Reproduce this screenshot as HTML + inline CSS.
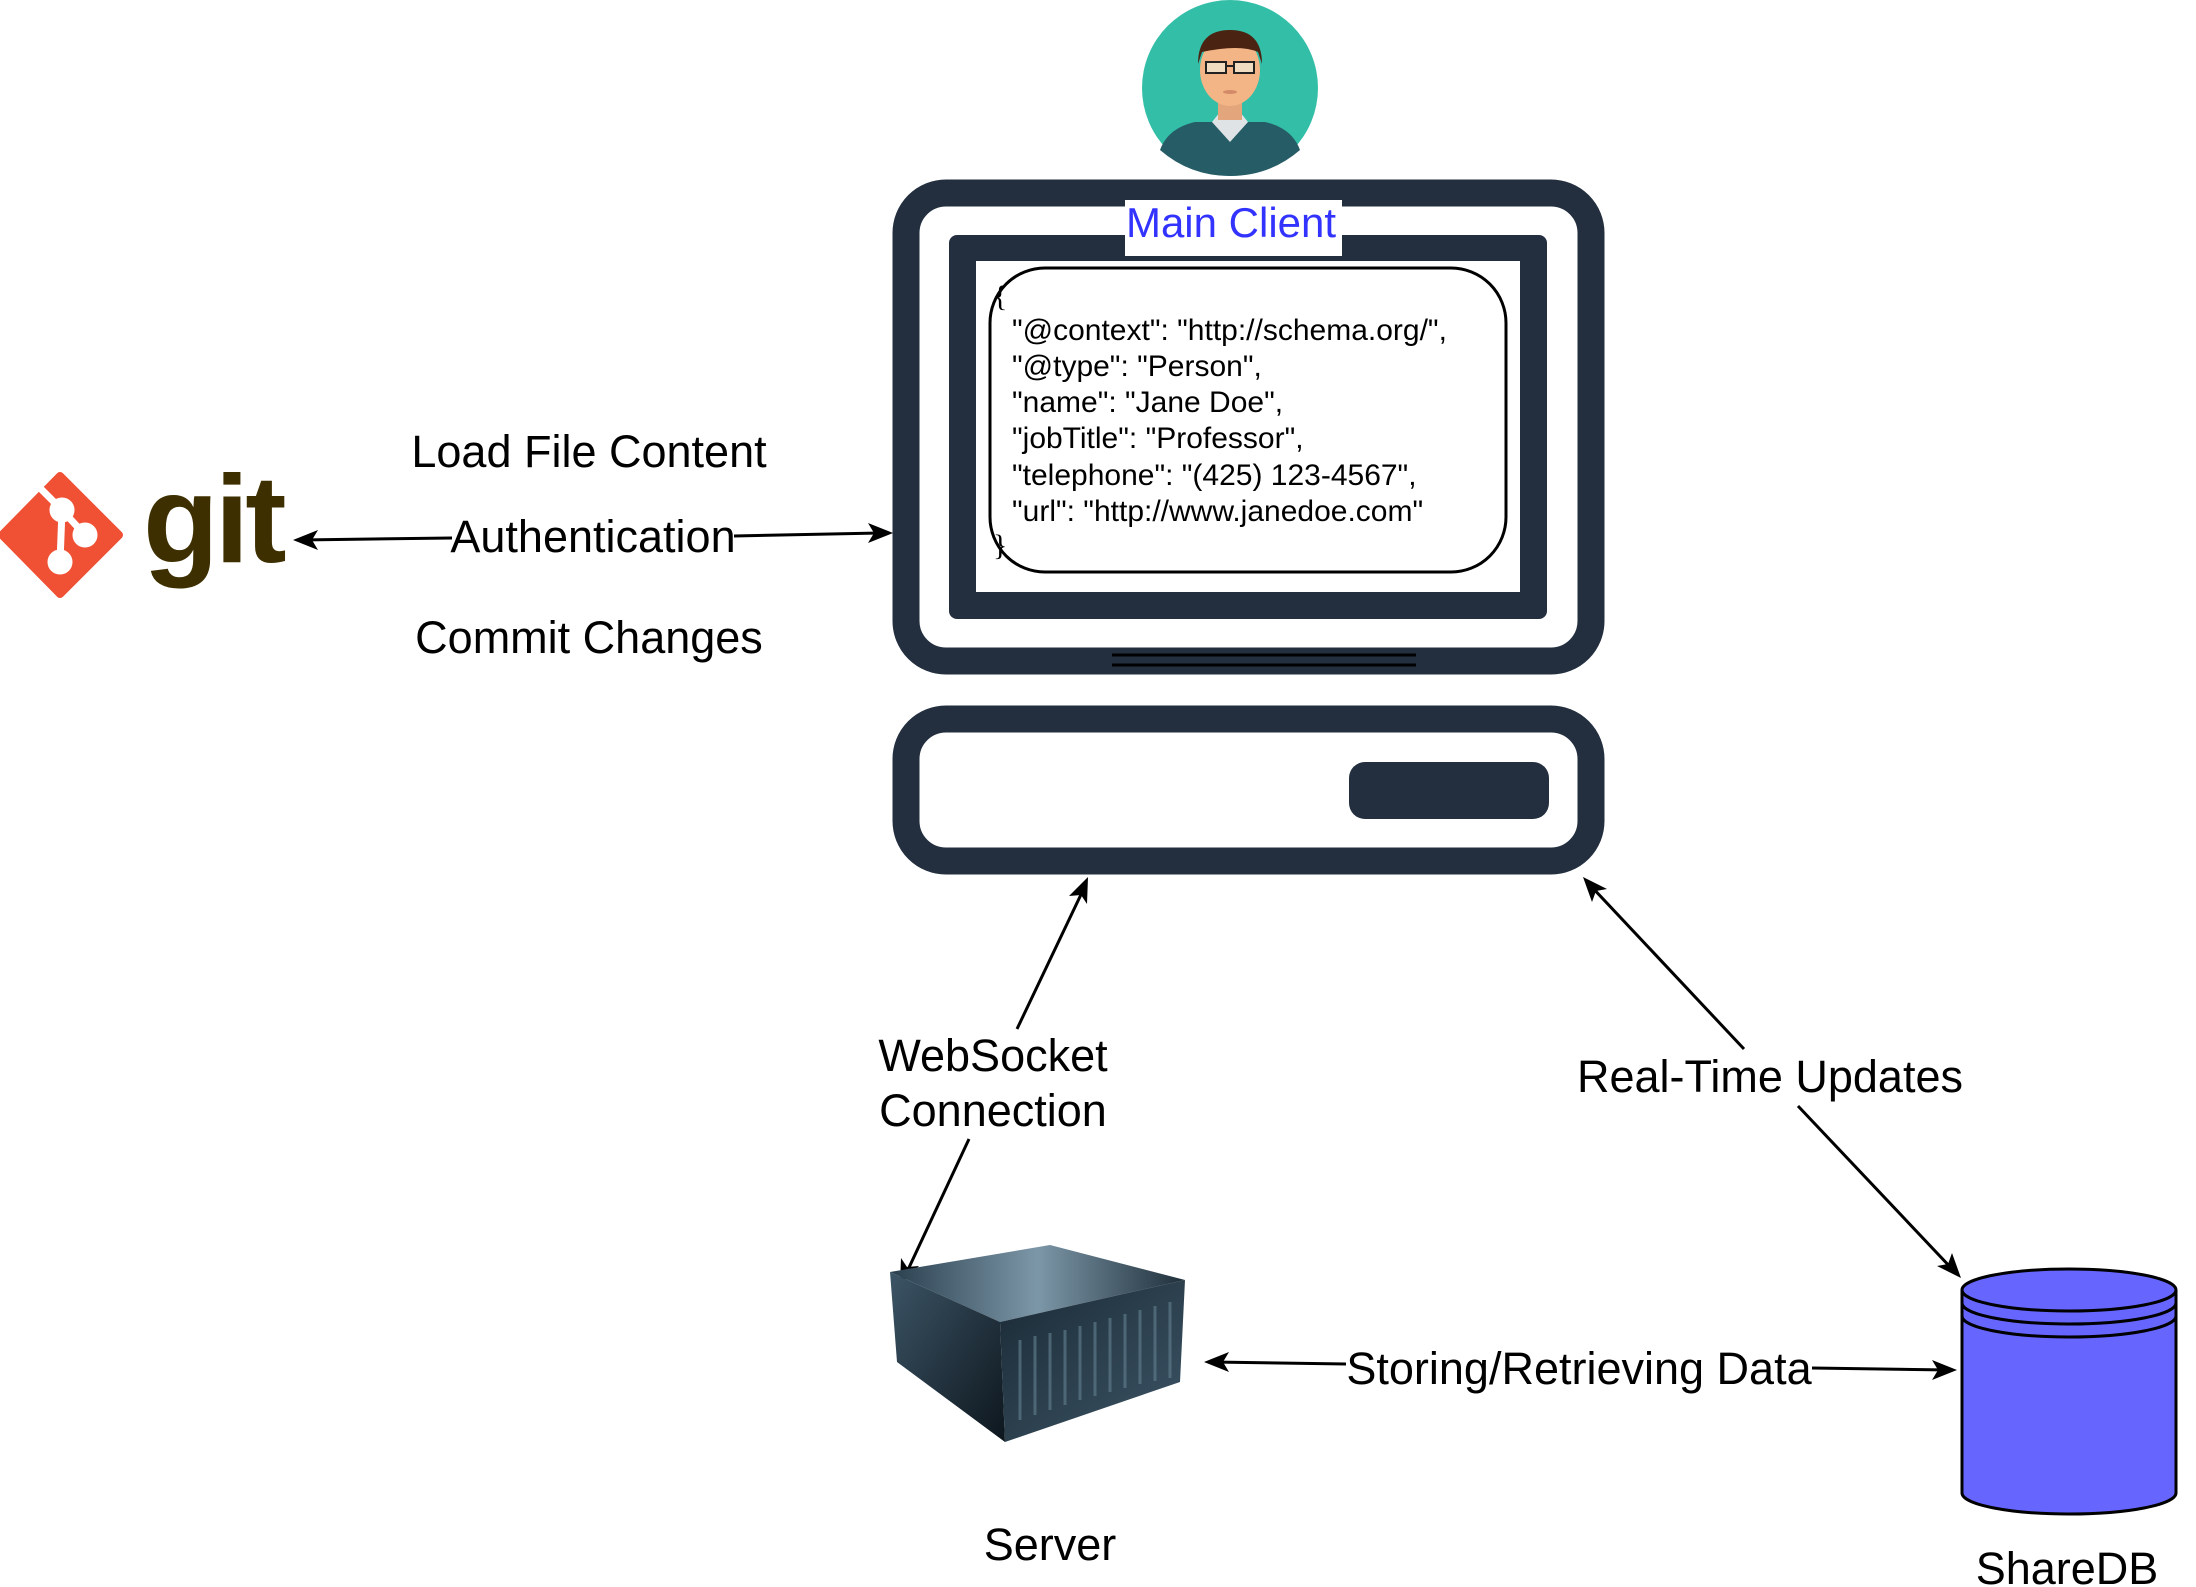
<!DOCTYPE html>
<html><head><meta charset="utf-8"><style>
html,body{margin:0;padding:0;background:#fff;}
svg{display:block;}
text{font-family:"Liberation Sans",sans-serif;}
</style></head><body>
<svg width="2196" height="1587" viewBox="0 0 2196 1587" xmlns="http://www.w3.org/2000/svg">
<defs>
<linearGradient id="top" x1="0" y1="0" x2="1" y2="0"><stop offset="0" stop-color="#2a3f4e"/><stop offset="0.5" stop-color="#7c97a8"/><stop offset="1" stop-color="#1f2f3a"/></linearGradient>
<linearGradient id="side" x1="0" y1="0" x2="1" y2="1"><stop offset="0" stop-color="#3c5566"/><stop offset="1" stop-color="#0d161d"/></linearGradient>
<linearGradient id="front" x1="0" y1="0" x2="1" y2="1"><stop offset="0" stop-color="#1a2a35"/><stop offset="1" stop-color="#3d5566"/></linearGradient>
</defs>

<!-- Avatar -->
<ellipse cx="1230" cy="88" rx="88" ry="88" fill="#33bea7"/>
<path d="M1160 150 Q1168 128 1195 122 L1265 122 Q1292 128 1300 150 Q1270 176 1230 176 Q1190 176 1160 150Z" fill="#265c66"/>
<path d="M1212 122 L1230 142 L1248 122 L1240 112 L1220 112Z" fill="#dfe3e6"/>
<rect x="1218" y="95" width="24" height="25" fill="#e3a57c"/>
<ellipse cx="1230" cy="70" rx="30" ry="36" fill="#f3b585"/>
<path d="M1198 64 Q1198 30 1230 30 Q1262 30 1262 64 L1258 52 Q1240 44 1202 52Z" fill="#4a2312"/>
<rect x="1206" y="62" width="20" height="11" fill="#f0dcc0" stroke="#222" stroke-width="2"/>
<rect x="1234" y="62" width="20" height="11" fill="#f0dcc0" stroke="#222" stroke-width="2"/>
<line x1="1226" y1="66" x2="1234" y2="66" stroke="#222" stroke-width="2"/>
<ellipse cx="1230" cy="92" rx="7" ry="2" fill="#d48a68"/>

<!-- Monitor -->
<rect x="906" y="193" width="685" height="468" rx="40" fill="none" stroke="#232f3e" stroke-width="27"/>
<rect x="949" y="235" width="598" height="384" rx="8" fill="#232f3e"/>
<rect x="976" y="261" width="544" height="331" fill="#fff"/>
<rect x="990" y="268" width="516" height="304" rx="55" fill="#fff" stroke="#000" stroke-width="3"/>
<rect x="1125" y="200" width="217" height="56" fill="#fff"/>
<text x="1231" y="237" font-size="42" fill="#3333ff" text-anchor="middle">Main Client</text>
<text font-size="30" fill="#000">
<tspan x="993" y="306" font-size="30" font-family="Liberation Serif">{</tspan>
<tspan x="1012" y="340">"@context": "http://schema.org/",</tspan>
<tspan x="1012" y="376">"@type": "Person",</tspan>
<tspan x="1012" y="412">"name": "Jane Doe",</tspan>
<tspan x="1012" y="448">"jobTitle": "Professor",</tspan>
<tspan x="1012" y="485">"telephone": "(425) 123-4567",</tspan>
<tspan x="1012" y="521">"url": "http://www.janedoe.com"</tspan>
<tspan x="993" y="555" font-size="30" font-family="Liberation Serif">}</tspan>
</text>
<line x1="1112" y1="655" x2="1416" y2="655" stroke="#000" stroke-width="3"/>
<line x1="1112" y1="665" x2="1416" y2="665" stroke="#000" stroke-width="3"/>

<!-- Base -->
<rect x="906" y="719" width="685" height="142" rx="40" fill="none" stroke="#232f3e" stroke-width="27"/>
<rect x="1349" y="762" width="200" height="57" rx="16" fill="#232f3e"/>

<!-- Git logo -->
<path d="M60 476 L119 535 L60 594 L2 535Z" fill="#f05033" stroke="#f05033" stroke-width="8" stroke-linejoin="round"/>
<g stroke="#fff" stroke-width="7" fill="#fff">
<line x1="40" y1="488" x2="62" y2="510"/>
<line x1="62" y1="510" x2="85" y2="535"/>
<line x1="62" y1="510" x2="60" y2="562"/>
<circle cx="62" cy="510" r="9"/><circle cx="85" cy="535" r="9"/><circle cx="60" cy="562" r="9"/>
</g>
<text x="143" y="562" font-family="Liberation Serif,serif" font-weight="bold" font-size="124" fill="#3e2f00" letter-spacing="-4">git</text>

<!-- Arrows -->
<g stroke="#000" stroke-width="3" fill="none">
<line x1="300" y1="540" x2="452" y2="538"/>
<line x1="734" y1="536" x2="880" y2="533"/>
<line x1="1086" y1="884" x2="1017" y2="1029"/>
<line x1="969" y1="1139" x2="906" y2="1274"/>
<line x1="1589" y1="884" x2="1744" y2="1049"/>
<line x1="1798" y1="1106" x2="1954" y2="1271"/>
<line x1="1212" y1="1362" x2="1346" y2="1364"/>
<line x1="1812" y1="1368" x2="1948" y2="1370"/>
</g>
<g fill="#000">
<path d="M293 540 L318 530 L312 540 L318 550Z"/>
<path d="M893 533 L868 543 L874 533 L868 523Z"/>
<path d="M1088 877 L1087 904 L1081 895 L1069 896Z"/>
<path d="M900 1285 L901 1258 L907 1267 L919 1266Z"/>
<path d="M1583 877 L1607 889 L1596 891 L1592 902Z"/>
<path d="M1961 1278 L1937 1266 L1948 1264 L1952 1253Z"/>
<path d="M1204 1362 L1229 1352 L1223 1362 L1229 1372Z"/>
<path d="M1957 1370 L1932 1380 L1938 1370 L1932 1360Z"/>
</g>

<!-- Labels -->
<g font-size="45" fill="#000" text-anchor="middle">
<text x="589" y="467">Load File Content</text>
<text x="593" y="552">Authentication</text>
<text x="589" y="653">Commit Changes</text>
<text x="993" y="1071">WebSocket</text>
<text x="993" y="1126">Connection</text>
<text x="1770" y="1092">Real-Time Updates</text>
<text x="1579" y="1384">Storing/Retrieving Data</text>
<text x="1050" y="1560">Server</text>
<text x="2067" y="1584">ShareDB</text>
</g>

<!-- Server -->
<path d="M890 1272 L1050 1245 L1185 1280 L1000 1322Z" fill="url(#top)"/>
<path d="M890 1272 L1000 1322 L1005 1442 L897 1362Z" fill="url(#side)"/>
<path d="M1000 1322 L1185 1280 L1180 1382 L1005 1442Z" fill="url(#front)"/>
<g stroke="#5c7888" stroke-width="3" opacity="0.7">
<line x1="1020" y1="1340" x2="1020" y2="1420"/><line x1="1035" y1="1336" x2="1035" y2="1415"/>
<line x1="1050" y1="1333" x2="1050" y2="1410"/><line x1="1065" y1="1330" x2="1065" y2="1405"/>
<line x1="1080" y1="1326" x2="1080" y2="1400"/><line x1="1095" y1="1322" x2="1095" y2="1396"/>
<line x1="1110" y1="1318" x2="1110" y2="1392"/><line x1="1125" y1="1314" x2="1125" y2="1388"/>
<line x1="1140" y1="1310" x2="1140" y2="1384"/><line x1="1155" y1="1306" x2="1155" y2="1381"/>
<line x1="1170" y1="1302" x2="1170" y2="1378"/>
</g>

<!-- ShareDB cylinder -->
<path d="M1962 1290 L1962 1493 A107 21 0 0 0 2176 1493 L2176 1290" fill="#6666ff" stroke="#000" stroke-width="3"/>
<ellipse cx="2069" cy="1290" rx="107" ry="21" fill="#6666ff" stroke="#000" stroke-width="3"/>
<path d="M1962 1303 A107 21 0 0 0 2176 1303" fill="none" stroke="#000" stroke-width="3"/>
<path d="M1962 1316 A107 21 0 0 0 2176 1316" fill="none" stroke="#000" stroke-width="3"/>
</svg>
</body></html>
